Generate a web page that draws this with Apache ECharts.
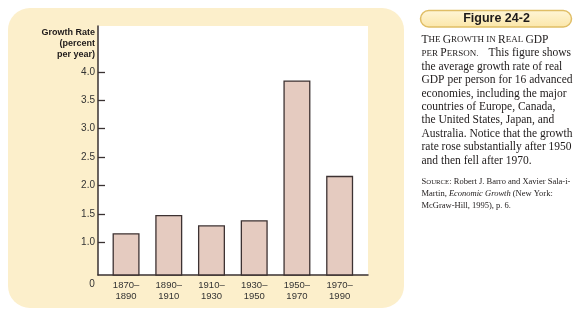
<!DOCTYPE html>
<html><head><meta charset="utf-8">
<script src="https://cdn.jsdelivr.net/npm/echarts@6/dist/echarts.min.js"></script>
<style>html,body{margin:0;padding:0;background:#fff}#c{width:575px;height:326px}</style>
</head><body><div id="c"></div>
<script>
const categories = ['1870–\n1890','1890–\n1910','1910–\n1930','1930–\n1950','1950–\n1970','1970–\n1990'];
const growthRate = [1.16, 1.48, 1.30, 1.39, 3.85, 2.17];
const yTicks = [1.0, 1.5, 2.0, 2.5, 3.0, 3.5, 4.0];
const yMin = 0.424, yMax = 4.808;

const serif = '"Liberation Serif", "DejaVu Serif", serif';
const sans = '"Liberation Sans", Arial, sans-serif';
const dark = '#3a3232';

const chart = echarts.init(document.getElementById('c'), null, {renderer:'canvas'});

function txt(x, y, text, font, extra) {
  return Object.assign({type:'text', x:x, y:y, style:Object.assign({text:text, font:font, fill:'#1e1a1a', textVerticalAlign:'middle'}, {})}, extra || {});
}
function rich(x, y, text, richStyles) {
  return {type:'text', x:x, y:y, style:{text:text, rich:richStyles, fill:'#1e1a1a', textVerticalAlign:'middle', verticalAlign:'middle'}};
}
const bodyFont = '11.5px ' + serif;
const capsRich = {
  B:{fontFamily:serif, fontSize:11.5, fill:'#1e1a1a'},
  s:{fontFamily:serif, fontSize:9, fill:'#1e1a1a'}
};
const srcRich = {
  B:{fontFamily:serif, fontSize:8.5, fill:'#1e1a1a'},
  s:{fontFamily:serif, fontSize:6.8, fill:'#1e1a1a'},
  n:{fontFamily:serif, fontSize:8.5, fill:'#1e1a1a'},
  i:{fontFamily:serif, fontSize:8.5, fontStyle:'italic', fill:'#1e1a1a'}
};
const bodyLines = [
  'the average growth rate of real',
  'GDP per person for 16 advanced',
  'economies, including the major',
  'countries of Europe, Canada,',
  'the United States, Japan, and',
  'Australia. Notice that the growth',
  'rate rose substantially after 1950',
  'and then fell after 1970.'
];
const graphics = [
  {type:'rect', z:-10, shape:{x:8, y:8, width:396, height:300, r:22}, style:{fill:'#FCEFCB'}},
  {type:'rect', shape:{x:420.5, y:10.5, width:151, height:16.5, r:8.25},
   style:{fill:new echarts.graphic.LinearGradient(0,0,0,1,[{offset:0,color:'#FFF6D8'},{offset:1,color:'#FBE6A8'}]), stroke:'#E0BE66', lineWidth:1.5}},
  {type:'text', x:496.5, y:18.8, style:{text:'Figure 24-2', font:'bold 12.5px ' + sans, fill:'#1e1a1a', textAlign:'center', textVerticalAlign:'middle'}},
  rich(421.5, 40, '{B|T}{s|HE }{B|G}{s|ROWTH IN }{B|R}{s|EAL }{B|GDP}', capsRich),
  rich(421.5, 53.4, '{s|PER }{B|P}{s|ERSON.}', capsRich),
  {type:'text', x:571, y:53.4, style:{text:'This figure shows', font:bodyFont, fill:'#1e1a1a', textAlign:'right', textVerticalAlign:'middle'}},
  rich(421.5, 182, '{B|S}{s|OURCE}{n|: Robert J. Barro and Xavier Sala-i-}', srcRich),
  rich(421.5, 194, '{n|Martin, }{i|Economic Growth}{n| (New York:}', srcRich),
  rich(421.5, 205.5, '{n|McGraw-Hill, 1995), p. 6.}', srcRich),
  {type:'text', x:95, y:33, style:{text:'Growth Rate', font:'bold 9px ' + sans, fill:'#1e1a1a', textAlign:'right', textVerticalAlign:'middle'}},
  {type:'text', x:95, y:44, style:{text:'(percent', font:'bold 9px ' + sans, fill:'#1e1a1a', textAlign:'right', textVerticalAlign:'middle'}},
  {type:'text', x:95, y:55, style:{text:'per year)', font:'bold 9px ' + sans, fill:'#1e1a1a', textAlign:'right', textVerticalAlign:'middle'}},
  {type:'text', x:92, y:284, style:{text:'0', font:'10px ' + sans, fill:'#333', textAlign:'center', textVerticalAlign:'middle'}}
];
bodyLines.forEach((l, i) => {
  graphics.push({type:'text', x:421.5, y:66.8 + i * 13.4, style:{text:l, font:bodyFont, fill:'#1e1a1a', textVerticalAlign:'middle'}});
});

chart.setOption({
  animation:false,
  backgroundColor:'#ffffff',
  graphic:graphics,
  grid:[
    {left:98, right:207, top:26, bottom:51, show:true, backgroundColor:'#ffffff', borderWidth:0, z:-5},
    {left:104.7, right:214, top:26, bottom:51}
  ],
  xAxis:[
    {gridIndex:0, type:'category', data:categories, axisLine:{show:true, lineStyle:{color:dark, width:1.5}},
     axisTick:{show:false}, axisLabel:{show:false}, splitLine:{show:false}},
    {gridIndex:1, type:'category', data:categories, axisLine:{show:false}, axisTick:{show:false},
     axisLabel:{color:'#333', fontSize:9.5, fontFamily:sans, margin:5, lineHeight:11}, splitLine:{show:false}}
  ],
  yAxis:[
    {gridIndex:0, type:'value', min:yMin, max:yMax,
     axisLine:{show:true, lineStyle:{color:dark, width:1.5}},
     axisTick:{show:true, inside:true, length:7, customValues:yTicks, lineStyle:{color:dark, width:1.3}},
     axisLabel:{customValues:yTicks, formatter:v => v.toFixed(1), color:'#333', fontSize:10, fontFamily:sans, margin:3},
     splitLine:{show:false}},
    {gridIndex:1, type:'value', min:yMin, max:yMax, show:false, splitLine:{show:false}}
  ],
  series:[{
    type:'bar', xAxisIndex:1, yAxisIndex:1, data:growthRate, barWidth:27,
    itemStyle:{color:'#E5CBC0', borderColor:'#3d3232', borderWidth:1.3}
  }]
});
</script></body></html>
